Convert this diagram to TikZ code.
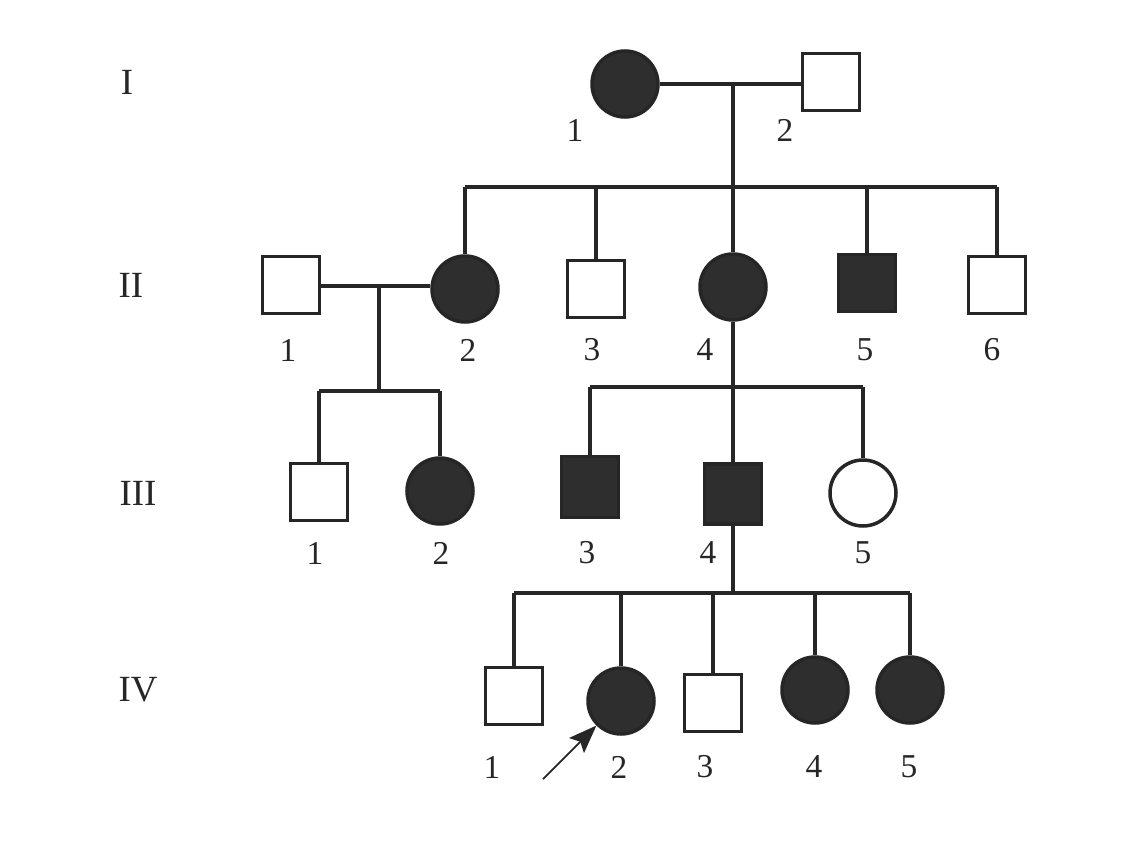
\documentclass[tikz,border=0pt]{standalone}
\usepackage{fontspec}
\setmainfont{Liberation Serif}
\usetikzlibrary{arrows.meta}

\begin{document}
\begin{tikzpicture}[x=0.02cm,y=-0.02cm,line width=2pt,
    male/.style={draw=black!85,rectangle,minimum size=1.14cm,inner sep=0pt},
    female/.style={draw=black!85,circle,minimum size=1.32cm,inner sep=0pt},
    ill/.style={fill=black!82},
    num/.style={text=black!85,font=\fontsize{19}{21}\selectfont},
    gen/.style={text=black!85,font=\fontsize{21}{23}\selectfont}]
\useasboundingbox (0,0) rectangle (1134,842);
%generations
\begin{scope}[every node/.style={gen}]
    \node (g1) at (127,82) {I};
    \node (g2) at (131,285) {II};
    \node (g3) at (138,493) {III};
    \node (g4) at (138,690) {IV};
\end{scope}

\begin{scope}
    \node[female,ill] (I1) at (625,84) {};
    \node[male] (I2) at (831,82) {};

    \node[male] (II1) at (291,285) {};
    \node[female,ill] (II2) at (465,289) {};
    \node[male] (II3) at (596,289) {};
    \node[female,ill] (II4) at (733,287) {};
    \node[male,ill] (II5) at (867,283) {};
    \node[male] (II6) at (997,285) {};

    \node[male] (III1) at (319,492) {};
    \node[female,ill] (III2) at (440,491) {};
    \node[male,ill,minimum height=1.22cm] (III3) at (590,487) {};
    \node[male,ill,minimum height=1.2cm] (III4) at (733,494) {};
    \node[female] (III5) at (863,493) {};

    \node[male] (IV1) at (514,696) {};
    \node[female,ill] (IV2) at (621,701) {};
    \node[male] (IV3) at (713,703) {};
    \node[female,ill] (IV4) at (815,690) {};
    \node[female,ill] (IV5) at (910,690) {};
\end{scope}

%numbers
\begin{scope}[every node/.style={num}]
    \node (n11) at (575,130) {1};
    \node (n12) at (785,130) {2};
    \node (n21) at (288,350) {1};
    \node (n22) at (468,350) {2};
    \node (n23) at (592,350) {3};
    \node (n24) at (705,350) {4};
    \node (n25) at (865,350) {5};
    \node (n26) at (992,350) {6};
    \node (n31) at (315,553) {1};
    \node (n32) at (441,553) {2};
    \node (n33) at (587,553) {3};
    \node (n34) at (708,553) {4};
    \node (n35) at (863,553) {5};
    \node (n41) at (492,767) {1};
    \node (n42) at (619,767) {2};
    \node (n43) at (705,767) {3};
    \node (n44) at (814,767) {4};
    \node (n45) at (909,767) {5};
\end{scope}

\coordinate (m1) at (733,84);
\coordinate (s1) at (733,187);
\coordinate (m2) at (379,286);
\coordinate (s2) at (379,391);
\coordinate (s3) at (733,387);
\coordinate (s4) at (733,593);
\coordinate (ptr) at (543,779);

\begin{scope}[draw=black!85]
    \path [-] (I1) edge (I1 -| I2.west);
    \path [-] (m1) edge (s1);
    \path [-] (s1 -| II2) edge (s1 -| II6);
    \path [-] (s1 -| II2) edge (II2);
    \path [-] (s1 -| II3) edge (II3);
    \path [-] (s1) edge (II4);
    \path [-] (s1 -| II5) edge (II5);
    \path [-] (s1 -| II6) edge (II6);

    \path [-] (m2 -| II1.east) edge (m2 -| II2.west);
    \path [-] (m2) edge (s2);
    \path [-] (s2 -| III1) edge (s2 -| III2);
    \path [-] (s2 -| III1) edge (III1);
    \path [-] (s2 -| III2) edge (III2);

    \path [-] (II4) edge (s3);
    \path [-] (s3 -| III3) edge (s3 -| III5);
    \path [-] (s3 -| III3) edge (III3);
    \path [-] (s3) edge (III4);
    \path [-] (s3 -| III5) edge (III5);

    \path [-] (III4) edge (s4);
    \path [-] (s4 -| IV1) edge (s4 -| IV5);
    \path [-] (s4 -| IV1) edge (IV1);
    \path [-] (s4 -| IV2) edge (IV2);
    \path [-] (s4 -| IV3) edge (IV3);
    \path [-] (s4 -| IV4) edge (IV4);
    \path [-] (s4 -| IV5) edge (IV5);
\end{scope}
\draw[-{Stealth[length=16pt,width=12pt,inset=3pt]},line width=1pt,black!85] (ptr) -- (IV2.south west);
\end{tikzpicture}
\end{document}
